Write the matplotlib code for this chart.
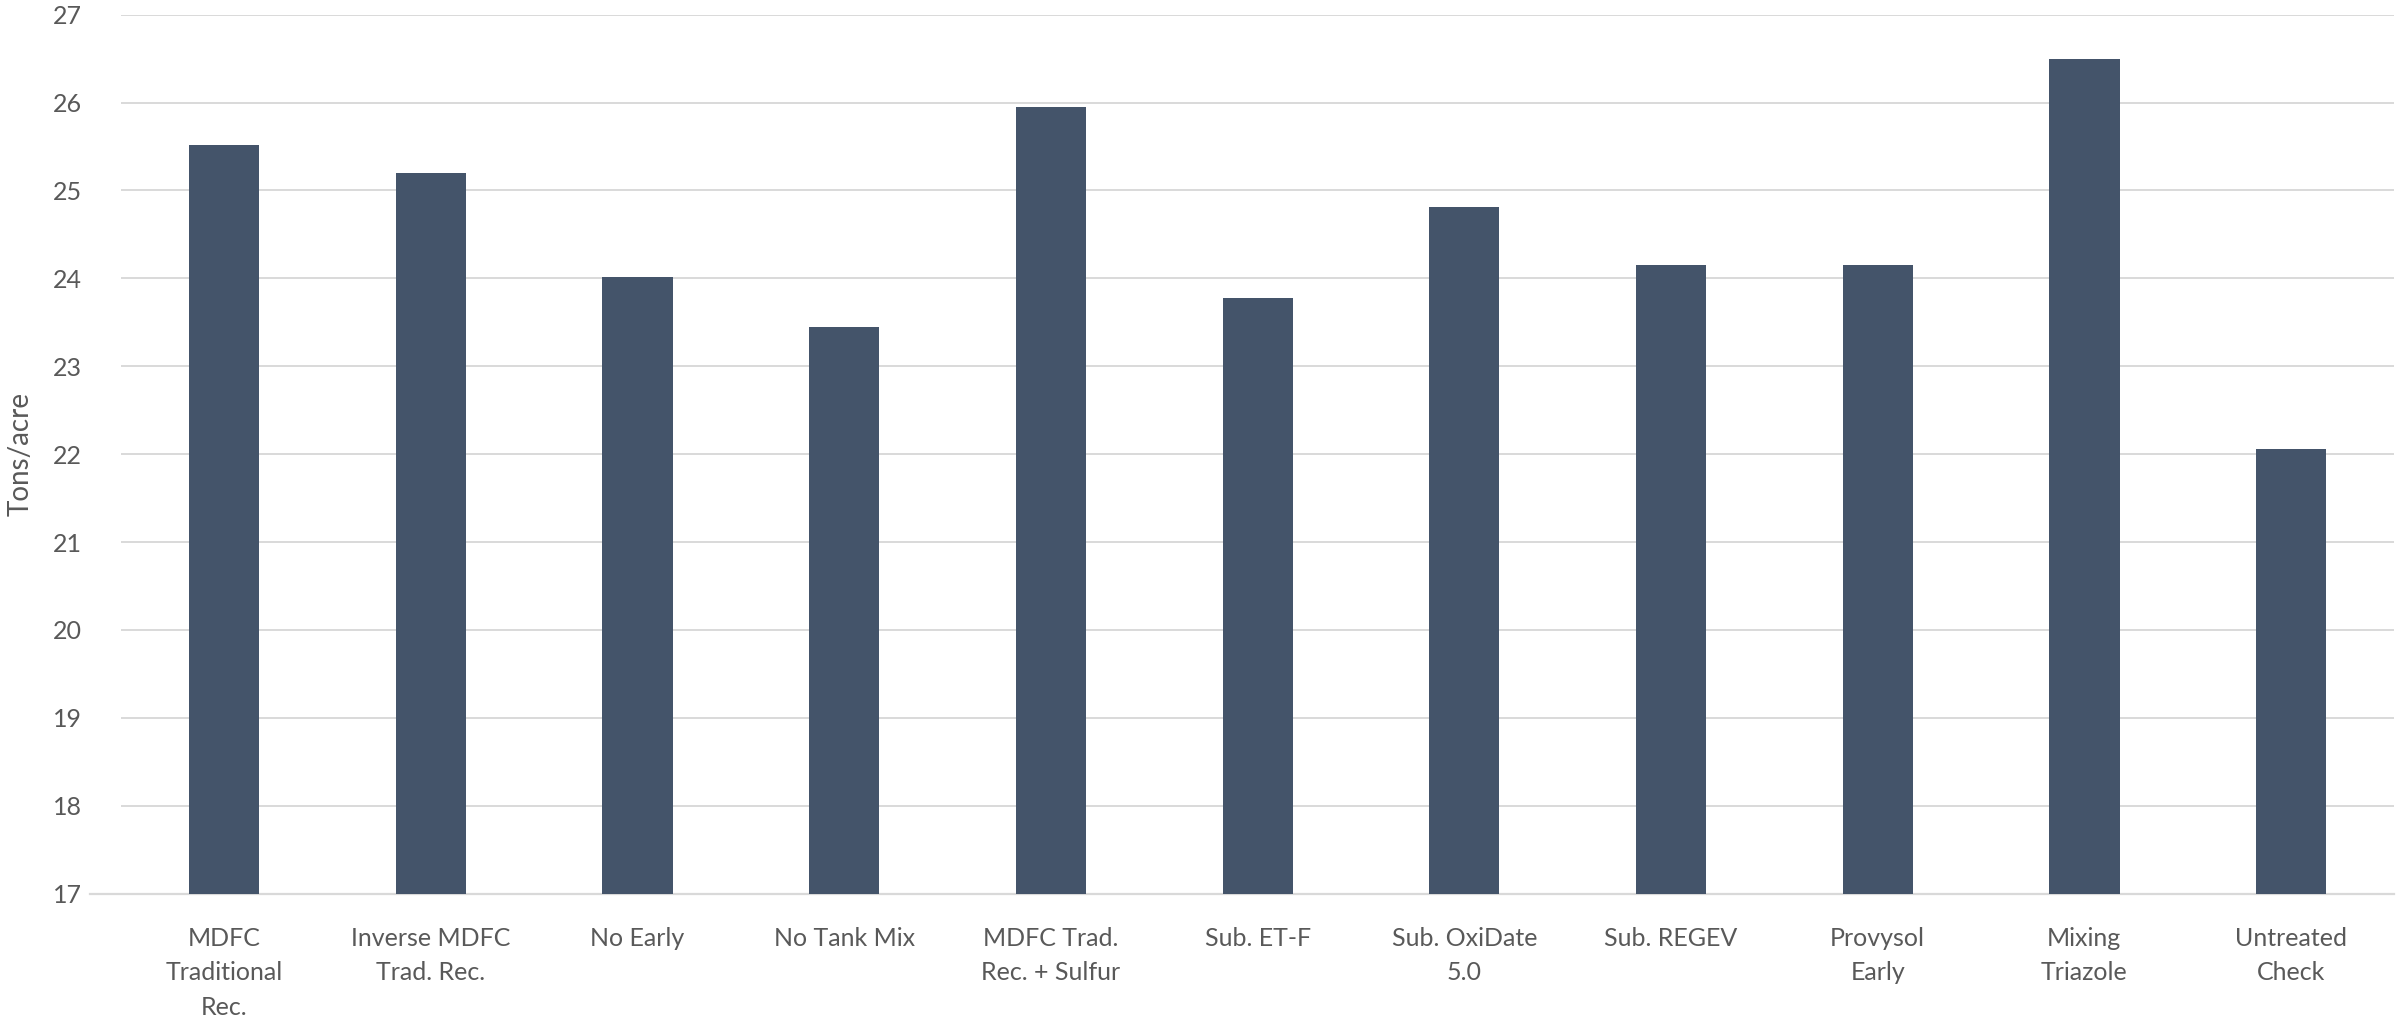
import matplotlib
matplotlib.use('Agg')
import matplotlib.pyplot as plt

# treatments and yield (tons/acre)
labels = ['MDFC\nTraditional\nRec.', 'Inverse MDFC\nTrad. Rec.', 'No Early', 'No Tank Mix',
          'MDFC Trad.\nRec. + Sulfur', 'Sub. ET-F', 'Sub. OxiDate\n5.0', 'Sub. REGEV',
          'Provysol\nEarly', 'Mixing\nTriazole', 'Untreated\nCheck']
yields = [25.52, 25.20, 24.02, 23.45, 25.95, 23.78, 24.81, 24.15, 24.15, 26.50, 22.06]
yticks = [17, 18, 19, 20, 21, 22, 23, 24, 25, 26, 27]

plt.rcParams['font.family'] = ['Lato', 'DejaVu Sans']
txt = '#595959'

fig = plt.figure(figsize=(24.04, 10.26), dpi=100)
ax = fig.add_axes([0.0503, 0.129, 0.9457, 0.8567])

x = list(range(len(labels)))
ax.bar(x, yields, width=0.34, color='#44546A', zorder=3)

ax.set_xlim(-0.5, len(labels) - 0.5)
ax.set_ylim(17, 27)
ax.set_yticks(yticks)
ax.set_xticks(x)
ax.set_xticklabels(labels, fontsize=18, color=txt, linespacing=1.6, va='top')
ax.tick_params(axis='y', length=0, pad=28, labelsize=18, labelcolor=txt)
ax.tick_params(axis='x', length=0, pad=24)
ax.grid(axis='y', color='#D9D9D9', linewidth=1.4, zorder=0)
for s in ax.spines.values():
    s.set_visible(False)
ax.axhline(17, xmin=-0.0136, xmax=1, color='#D9D9D9', linewidth=1.6, clip_on=False, zorder=2)

ax.set_ylabel('Tons/acre', fontsize=20, color=txt, labelpad=14)

fig.savefig('out.png', dpi=100)
